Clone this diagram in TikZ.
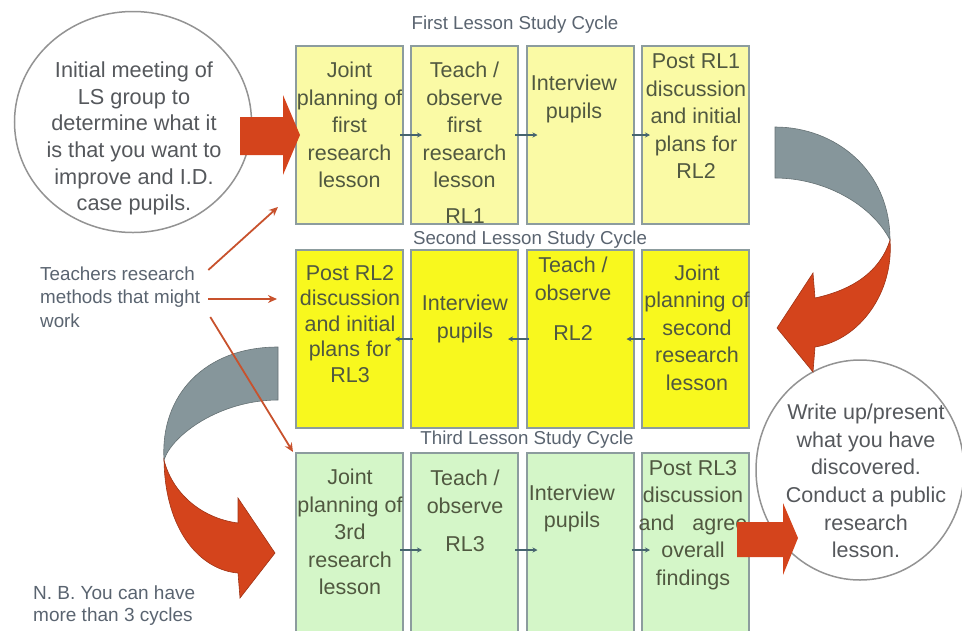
\documentclass[tikz,border=0pt]{standalone}
\usepackage{fontspec}
\setmainfont{Liberation Sans}
\usetikzlibrary{arrows.meta,shapes.geometric,positioning}

\definecolor{boxline}{RGB}{140,156,158}
\definecolor{firstfill}{RGB}{250,250,165}
\definecolor{secondfill}{RGB}{248,248,30}
\definecolor{thirdfill}{RGB}{212,246,200}
\definecolor{boxtext}{RGB}{80,88,64}
\definecolor{slate}{RGB}{90,100,112}
\definecolor{ringtext}{RGB}{85,88,92}
\definecolor{bigred}{RGB}{212,68,28}
\definecolor{thinred}{RGB}{200,82,45}
\definecolor{backgray}{RGB}{134,150,155}
\definecolor{steparrow}{RGB}{70,100,110}

\tikzset{
  stage/.style={draw=boxline, line width=2pt, minimum width=107pt, inner sep=0pt, outer sep=0pt},
  words/.style={text=boxtext, align=center, inner sep=0pt, font=\fontsize{21.5}{27.5}\selectfont},
  title/.style={text=slate, inner sep=0pt, font=\fontsize{18.7}{22}\selectfont},
  note/.style={text=slate, align=left, inner sep=0pt, anchor=west, font=\fontsize{18.8}{23.5}\selectfont},
  ring/.style={ellipse, draw=gray!85, line width=1.5pt, fill=white, inner sep=0pt},
  ringwords/.style={text=ringtext, align=center, inner sep=0pt},
  pass/.style={draw=steparrow, line width=1.2pt, -{Stealth[length=5pt,width=5pt]}},
  hint/.style={draw=thinred, line width=1.8pt, -{Stealth[length=9pt,width=8pt]}},
  ribbon/.style={draw=#1!75!black, line width=0.6pt, fill=#1}
}

\begin{document}
\begin{tikzpicture}[x=1pt,y=-1pt]
  \useasboundingbox (0,0) rectangle (962,630);
  \clip (0,0) rectangle (962,630);

  %First cycle boxes
  \node[stage, fill=firstfill, minimum height=178pt] (b11) at (349.5,135) {};
  \node[stage, fill=firstfill, minimum height=178pt] (b12) at (464.5,135) {};
  \node[stage, fill=firstfill, minimum height=178pt] (b13) at (580,135) {};
  \node[stage, fill=firstfill, minimum height=178pt] (b14) at (695.5,135) {};

  %Second cycle boxes
  \node[stage, fill=secondfill, minimum height=178pt] (b21) at (349.5,339) {};
  \node[stage, fill=secondfill, minimum height=178pt] (b22) at (464.5,339) {};
  \node[stage, fill=secondfill, minimum height=178pt] (b23) at (580,339) {};
  \node[stage, fill=secondfill, minimum height=178pt] (b24) at (695.5,339) {};

  %Third cycle boxes (run off the bottom)
  \node[stage, fill=thirdfill, minimum height=190pt] (b31) at (349.5,548) {};
  \node[stage, fill=thirdfill, minimum height=190pt] (b32) at (464.5,548) {};
  \node[stage, fill=thirdfill, minimum height=190pt] (b33) at (580,548) {};
  \node[stage, fill=thirdfill, minimum height=190pt] (b34) at (695.5,548) {};

  %Cycle titles
  \node[title] (c1) at (515,25) {First Lesson Study Cycle};
  \node[title] (c2) at (530,239.5) {Second Lesson Study Cycle};
  \node[title] (c3) at (527,440) {Third Lesson Study Cycle};

  %Box texts, first row
  \node[words] (t11) at (349.5,125) {Joint\\planning of\\first\\research\\lesson};
  \node[words] (t12) at (464.5,125) {Teach /\\observe\\first\\research\\lesson};
  \node[words] (rl1) at (465,216.5) {RL1};
  \node[words] (t13) at (574,99) {Interview\\pupils};
  \node[words] (t14) at (696,116.5) {Post RL1\\discussion\\and initial\\plans for\\RL2};

  %Box texts, second row
  \node[words, font=\fontsize{21.5}{25.5}\selectfont] (t21) at (350,324) {Post RL2\\discussion\\and initial\\plans for\\RL3};
  \node[words] (t22) at (465,319) {Interview\\pupils};
  \node[words] (t23) at (573,299) {Teach /\\observe\\[13pt]RL2};
  \node[words] (t24) at (697,327.5) {Joint\\planning of\\second\\research\\lesson};

  %Box texts, third row
  \node[words] (t31) at (350,532) {Joint\\planning of\\3rd\\research\\lesson};
  \node[words] (t32) at (465,511) {Teach /\\observe\\[11pt]RL3};
  \node[words] (t33) at (572,508.5) {Interview\\pupils};
  \node[words] (t34) at (693,525) {Post RL3\\discussion\\and\hspace{18pt}agree\\overall\\findings};

  %Small step arrows
  \draw[pass] ([xshift=-3pt]b11.east) -- ([xshift=11pt]b12.west);
  \draw[pass] ([xshift=-3pt]b12.east) -- ([xshift=11pt]b13.west);
  \draw[pass] ([xshift=-2pt]b13.east) -- ([xshift=8pt]b14.west);
  \draw[pass] ([xshift=3pt]b24.west) -- ([xshift=-7pt]b23.east);
  \draw[pass] ([xshift=2pt]b23.west) -- ([xshift=-10pt]b22.east);
  \draw[pass] ([xshift=2pt]b22.west) -- ([xshift=-8pt]b21.east);
  \draw[pass] ([xshift=-3pt,yshift=-2pt]b31.east) -- ([xshift=11pt,yshift=-2pt]b32.west);
  \draw[pass] ([xshift=-3pt,yshift=-2pt]b32.east) -- ([xshift=11pt,yshift=-2pt]b33.west);
  \draw[pass] ([xshift=-2pt,yshift=-2pt]b33.east) -- ([xshift=8pt,yshift=-2pt]b34.west);

  %Start and end circles
  \node[ring, minimum width=237pt, minimum height=221pt] (meeting) at (133,122) {};
  \node[ringwords, font=\fontsize{21.7}{26.6}\selectfont] (goal) at (134,138.5)
    {Initial meeting of\\LS group to\\determine what it\\is that you want to\\improve and I.D.\\case pupils.};
  \node[ring, minimum width=208pt, minimum height=220pt] (writeup) at (860,470) {};
  \node[ringwords, font=\fontsize{21.5}{27.6}\selectfont] (report) at (866,481)
    {Write up/present\\what you have\\discovered.\\Conduct a public\\research\\lesson.};

  %Block arrows in and out
  \fill[bigred] (240,117) -- (283,117) -- (283,95) -- (300,135) -- (283,175) -- (283,155) -- (240,155) -- cycle;
  \fill[bigred] (737,522) -- (783,522) -- (783,503) -- (798,538) -- (783,575) -- (783,557) -- (737,557) -- cycle;

  %Curved arrow, first to second cycle
  \filldraw[ribbon=backgray] (775,127) .. controls (835,127) and (890,170) .. (890,240)
    .. controls (872,205) and (825,178) .. (775,178) -- cycle;
  \filldraw[ribbon=bigred] (890,240) .. controls (894,292) and (860,340) .. (815,347)
    -- (813,372) -- (777,328) -- (813,273) -- (815,298)
    .. controls (852,290) and (880,272) .. (890,240) -- cycle;

  %Curved arrow, second to third cycle
  \filldraw[ribbon=backgray] (278,347) .. controls (205,347) and (160,395) .. (164,460)
    .. controls (172,435) and (220,400) .. (278,400) -- cycle;
  \filldraw[ribbon=bigred] (164,460) .. controls (165,530) and (200,570) .. (238,573)
    -- (240,598) -- (275,553) -- (238,498) -- (238,523)
    .. controls (200,518) and (172,492) .. (164,460) -- cycle;

  %Side notes
  \node[note] (methods) at (40,297) {Teachers research\\methods that might\\work};
  \node[note, font=\fontsize{19}{22}\selectfont] (nb) at (33,606) {N. B. You can have\\more than 3 cycles};

  %Research methods feed each cycle
  \draw[hint] ([shift={(8pt,27pt)}]methods.east) -- ([shift={(-18pt,17pt)}]b11.south west);
  \draw[hint] ([shift={(8pt,-2pt)}]methods.east) -- ([shift={(-19pt,-49pt)}]b21.north west);
  \draw[hint] ([shift={(10pt,-20pt)}]methods.east) -- ([shift={(-3pt,1pt)}]b31.north west);
\end{tikzpicture}
\end{document}
